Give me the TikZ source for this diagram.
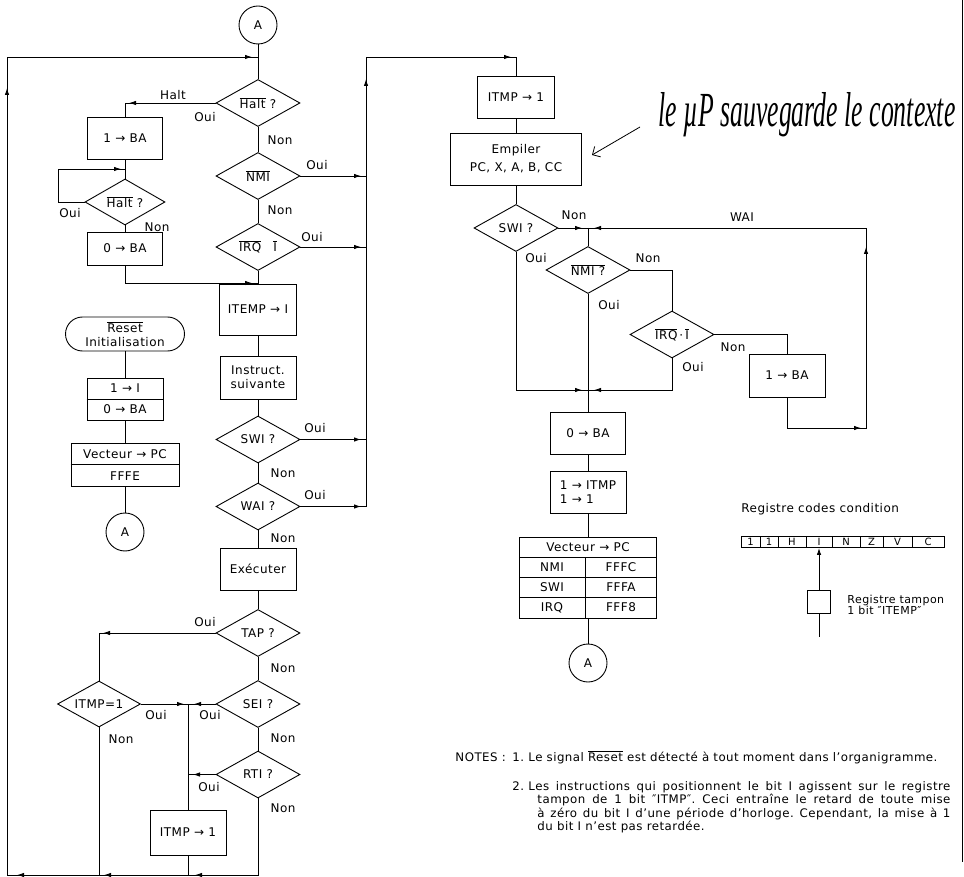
\documentclass[tikz,border=0pt]{standalone}
\usepackage{fontspec}
\usepackage{graphicx}
\setmainfont{DejaVu Sans}[LetterSpace=4]
\newfontfamily\handfont{Liberation Serif}
\usetikzlibrary{shapes.geometric,arrows.meta}
\newcommand\ovl[1]{$\overline{\mbox{#1}}$}
\newcommand\tipL[1]{\draw[arr] #1 ++(8,0) -- #1;}
\newcommand\tipR[1]{\draw[arr] #1 ++(-8,0) -- #1;}
\newcommand\tipU[1]{\draw[arr] #1 ++(0,8) -- #1;}
\frenchspacing
\begin{document}
\frenchspacing
\begin{tikzpicture}[x=1pt,y=-1pt,line width=0.9pt,
  font=\fontsize{12}{14}\selectfont,
  box/.style={draw,rectangle,inner sep=0pt,align=center},
  dia/.style={draw,diamond,inner sep=0pt,minimum width=84pt,minimum height=47pt},
  circ/.style={draw,circle,inner sep=0pt,minimum size=38pt},
  lab/.style={inner sep=0pt},
  arr/.style={-{Latex[length=7pt,width=4.5pt]}}]
\useasboundingbox (0,0) rectangle (964,877);

% ---------- main column ----------
\node[circ] (A1) at (258,25) {A};
\node[dia] (haltD) at (258,103) {\makebox[0pt]{\ovl{Halt} ?}};
\node[dia] (nmiD) at (258,176) {\makebox[0pt]{\ovl{NMI}}};
\node[dia] (irqD) at (258,247) {\makebox[0pt]{\ovl{IRQ}\hspace{12pt}\ovl{I}}};
\node[box,minimum width=77pt,minimum height=51pt] (itempB) at (258,309.5) {ITEMP → I};
\node[box,minimum width=76pt,minimum height=43pt] (instrB) at (258,377.5) {Instruct.\\suivante};
\node[dia] (swiD) at (258,439.5) {\makebox[0pt]{SWI ?}};
\node[dia] (waiD) at (258,506.5) {\makebox[0pt]{WAI ?}};
\node[box,minimum width=76pt,minimum height=42pt] (execB) at (258,569) {Exécuter};
\node[dia] (tapD) at (258,633) {\makebox[0pt]{TAP ?}};
\node[dia] (seiD) at (258,704) {\makebox[0pt]{SEI ?}};
\node[dia] (rtiD) at (258,774.5) {\makebox[0pt]{RTI ?}};

% ---------- halt branch ----------
\node[box,minimum width=75pt,minimum height=42pt] (ba1B) at (125,138) {1 → BA};
\node[dia,minimum width=80pt,minimum height=46pt] (halt2D) at (125,202) {\makebox[0pt]{\ovl{Halt} ?}};
\node[box,minimum width=75pt,minimum height=33pt] (ba0B) at (125,248.5) {0 → BA};

% ---------- reset column ----------
\node[draw,rounded corners=17pt,minimum width=119pt,minimum height=34pt,inner sep=0pt,align=center,font=\fontsize{12}{14}\selectfont] (resetT) at (125,334) {\ovl{Reset}\\Initialisation};
\node[box,minimum width=76pt,minimum height=42pt] (oneIB) at (125,399) {};
\draw (oneIB.west) -- (oneIB.east);
\node[lab] at (125,388.5) {1 → I};
\node[lab] at (125,409.5) {0 → BA};
\node[box,minimum width=108pt,minimum height=43pt] (vecB) at (125,464.5) {};
\draw (vecB.west) -- (vecB.east);
\node[lab] at (125,454) {Vecteur → PC};
\node[lab] at (125,476) {FFFE};
\node[circ] (A2) at (125,532) {A};
\draw (resetT.south) -- (oneIB.north);
\draw (oneIB.south) -- (vecB.north);
\draw (vecB.south) -- (A2.north);

% ---------- lower left ----------
\node[dia,minimum width=83pt,minimum height=46pt] (itmp1D) at (99,704) {\makebox[0pt]{ITMP=1}};
\node[box,minimum width=76pt,minimum height=45pt] (itmpB) at (188,832.5) {ITMP → 1};

% ---------- right column ----------
\node[box,minimum width=77pt,minimum height=42pt] (itmpRB) at (516,97) {ITMP → 1};
\node[box,minimum width=131pt,minimum height=52pt,font=\fontsize{12}{18}\selectfont] (empB) at (516,159) {Empiler\\PC, X, A, B, CC};
\node[dia] (swiRD) at (516,228) {\makebox[0pt]{SWI ?}};
\node[dia] (nmiRD) at (588,270) {\makebox[0pt]{\ovl{NMI ?}}};
\node[dia] (irqRD) at (672,334.5) {\makebox[0pt]{\ovl{IRQ}\,·\,\ovl{I}}};
\node[box,minimum width=76pt,minimum height=43pt] (baR1B) at (787,375.5) {1 → BA};
\node[box,minimum width=75pt,minimum height=42pt] (baR0B) at (588,433) {0 → BA};
\node[box,minimum width=76pt,minimum height=42pt,align=left] (itmpIB) at (588,492) {1 → ITMP\\1 → 1};
\node[box,minimum width=137pt,minimum height=81pt] (vecT) at (588,577.5) {};
\draw (vecT.west |- 0,557) -- (vecT.east |- 0,557);
\draw (vecT.west |- 0,577) -- (vecT.east |- 0,577);
\draw (vecT.west |- 0,597) -- (vecT.east |- 0,597);
\draw (585,557) -- (585,618);
\node[lab] at (588,547) {Vecteur → PC};
\node[lab] at (552,567) {NMI};
\node[lab] at (621,567) {FFFC};
\node[lab] at (552,587) {SWI};
\node[lab] at (621,587) {FFFA};
\node[lab] at (552,607.5) {IRQ};
\node[lab] at (621,607.5) {FFF8};
\node[circ] (A3) at (588,663) {A};

% ---------- coordinates ----------
\coordinate (topL) at (7,57);
\coordinate (topM) at (258,57);
\coordinate (botL) at (7,875);
\coordinate (botM) at (258,875);
\coordinate (topR) at (366,57);
\coordinate (topR2) at (516,57);
\coordinate (rWAI) at (366,506.5);
\coordinate (jH) at (125,283);
\coordinate (jS) at (188,704);
\coordinate (jW) at (588,228);
\coordinate (jO) at (588,390);
\coordinate (wB) at (866,428);
\coordinate (wT) at (866,228);

% ---------- main spine connectors ----------
\draw (A1.south) -- (haltD.north);
\draw (haltD.south) -- (nmiD.north);
\draw (nmiD.south) -- (irqD.north);
\draw (irqD.south) -- (itempB.north);
\draw (itempB.south) -- (instrB.north);
\draw (instrB.south) -- (swiD.north);
\draw (swiD.south) -- (waiD.north);
\draw (waiD.south) -- (execB.north);
\draw (execB.south) -- (tapD.north);
\draw (tapD.south) -- (seiD.north);
\draw (seiD.south) -- (rtiD.north);

\draw (rtiD.south) -- (botM) -- (botL) -- (topL) -- (topM);
\tipL{(195,875)} \tipL{(104,875)} \tipL{(17,875)} \tipU{(7,88)} \tipR{(252,57)}

% halt branch
\draw (haltD.west) -| (ba1B.north); \tipL{(129,103)}
\draw (ba1B.south) -- (halt2D.north);
\draw (halt2D.west) -- (58,202) -- (58,169) -- (125,169); \tipR{(121,169)}
\draw (halt2D.south) -- (ba0B.north);
\draw (ba0B.south) -- (jH) -- (258,283); \tipR{(252,283)}

% exits to the right loop
\draw (nmiD.east) -- (366,176); \tipR{(361,176)}
\draw (irqD.east) -- (366,247); \tipR{(361,247)}
\draw (swiD.east) -- (366,439.5); \tipR{(361,439.5)}
\draw (waiD.east) -- (rWAI) -- (topR) -- (topR2) -- (itmpRB.north);
\tipR{(361,506.5)} \tipU{(366,79)} \tipR{(511,57)}

% lower left
\draw (tapD.west) -| (itmp1D.north); \tipL{(103,633)}
\draw (itmp1D.east) -- (seiD.west);
\tipR{(184,704)} \tipL{(194,704)}
\draw (jS) -- (itmpB.north);
\draw (rtiD.west) -- (188,774.5); \tipL{(193,774.5)}
\draw (itmpB.south) -- (188,875);
\draw (itmp1D.south) -- (99,875);

% right column
\draw (itmpRB.south) -- (empB.north);
\draw (empB.south) -- (swiRD.north);
\draw (swiRD.east) -- (jW); \tipR{(582,228)}
\draw (jW) -- (nmiRD.north);
\draw (nmiRD.east) -| (irqRD.north);
\draw (irqRD.east) -| (baR1B.north);
\draw (swiRD.south) |- (jO); \tipR{(582,390)}
\draw (irqRD.south) |- (jO); \tipL{(594,390)}
\draw (nmiRD.south) -- (baR0B.north);
\draw (baR1B.south) |- (wB) -- (wT) -- (jW);
\tipR{(861,428)} \tipU{(866,247)} \tipL{(594,228)}
\draw (baR0B.south) -- (itmpIB.north);
\draw (itmpIB.south) -- (vecT.north);
\draw (vecT.south) -- (A3.north);

% ---------- labels ----------
\node[lab] at (173,95) {Halt};
\node[lab] at (205,117) {Oui};
\node[lab] at (280,140) {Non};
\node[lab] at (317,165) {Oui};
\node[lab] at (280,210) {Non};
\node[lab] at (312,237) {Oui};
\node[lab] at (70,213) {Oui};
\node[lab] at (157,227) {Non};
\node[lab] at (315,428) {Oui};
\node[lab] at (283,473) {Non};
\node[lab] at (315,495) {Oui};
\node[lab] at (283,538) {Non};
\node[lab] at (205,622) {Oui};
\node[lab] at (283,668) {Non};
\node[lab] at (156,715) {Oui};
\node[lab] at (210,715) {Oui};
\node[lab] at (121,739) {Non};
\node[lab] at (283,738) {Non};
\node[lab] at (209,787) {Oui};
\node[lab] at (283,808) {Non};
\node[lab] at (574,215) {Non};
\node[lab] at (742,217) {WAI};
\node[lab] at (536,258) {Oui};
\node[lab] at (648,258) {Non};
\node[lab] at (609,305) {Oui};
\node[lab] at (733,347) {Non};
\node[lab] at (693,367) {Oui};

% ---------- handwritten note ----------
\node[lab,anchor=base west] (hw) at (658,127) {\resizebox{297pt}{34pt}{\handfont\itshape le µP sauvegarde le contexte}};
\coordinate (hwS) at (640,127);
\coordinate (hwE) at (592,155);
\draw[line width=0.8pt,-{Straight Barb[length=6pt,width=12pt]}] (hwS) -- (hwE);

% ---------- condition code register ----------
\node[lab,anchor=west] at (741,509) {Registre codes condition};
\foreach \a/\b/\t [count=\i] in {741/760/1,760/778/1,778/806/H,806/832/I,832/860/N,860/883/Z,883/912/V,912/944/C}
  \node[draw,inner sep=0pt,minimum height=11pt,minimum width={(\b-\a)*1pt},font=\fontsize{10}{10}\selectfont] (cc\i) at ({(\a+\b)/2},542) {\t};
\node[draw,inner sep=0pt,minimum width=23pt,minimum height=23pt] (itb) at (819,601.5) {};
\coordinate (itbEnd) at (819,637);
\draw[arr] (itb.north) -- (itb.north |- cc4.south);
\draw (itb.south) -- (itbEnd);
\node[lab,anchor=west,align=left,font=\fontsize{11}{11.5}\selectfont] at (847,605) {Registre tampon\\1 bit ″ITEMP″};

% ---------- notes ----------
\begin{scope}[font=\fontsize{11.8}{13}\selectfont]
\node[lab,anchor=base west] at (455,761) {NOTES :};
\node[lab,anchor=base west] at (512,761) {1.};
\node[lab,anchor=base west] at (528,761) {\makebox[409pt][s]{Le signal \ovl{Reset} est détecté à tout moment dans l’organigramme.}};
\node[lab,anchor=base west] at (512,790) {2.};
\node[lab,anchor=base west] at (528,790) {\makebox[422pt][s]{Les instructions qui positionnent le bit I agissent sur le registre}};
\node[lab,anchor=base west] at (537,803) {\makebox[413pt][s]{tampon de 1 bit ″ITMP″. Ceci entraîne le retard de toute mise}};
\node[lab,anchor=base west] at (537,817) {\makebox[413pt][s]{à zéro du bit I d’une période d’horloge. Cependant, la mise à 1}};
\node[lab,anchor=base west] at (537,830) {du bit I n’est pas retardée.};
\end{scope}

% page edge
\draw[line width=1.5pt] (962.5,0) -- (962.5,862);
\end{tikzpicture}
\end{document}
